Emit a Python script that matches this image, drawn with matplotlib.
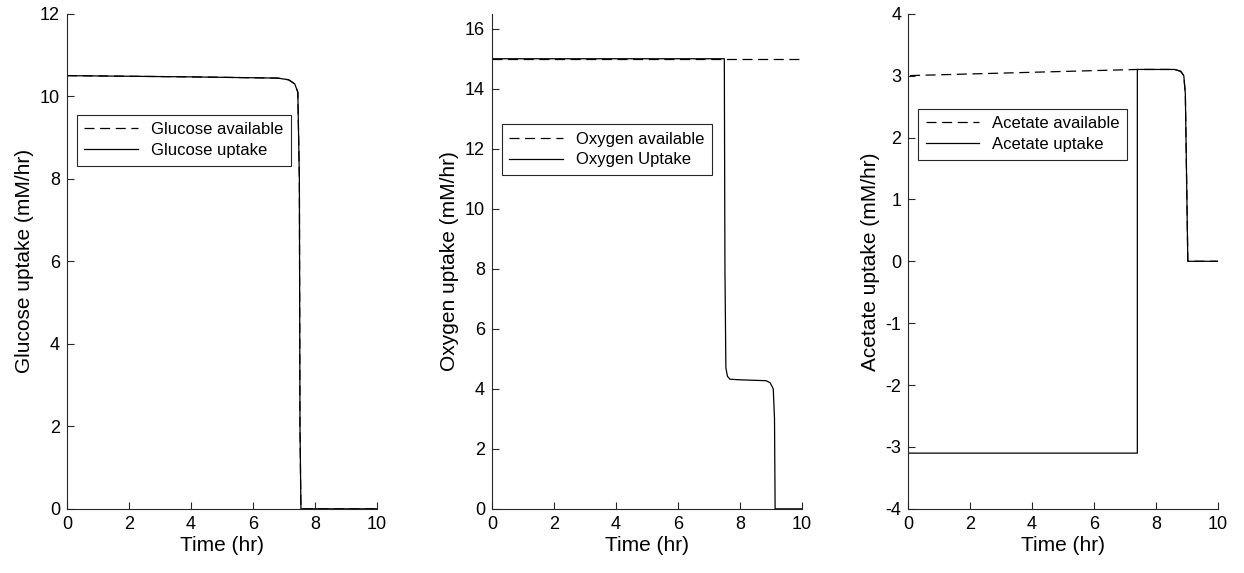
import matplotlib
matplotlib.use("Agg")
import matplotlib.pyplot as plt

plt.rcParams['font.family'] = ['Liberation Sans', 'DejaVu Sans']
plt.rcParams['axes.unicode_minus'] = False

# glucose (mM/hr)
glc_t = [0, 4.0, 6.8, 7.15, 7.35, 7.45, 7.5, 7.52, 7.55, 10]
glc_avail = [10.5, 10.47, 10.44, 10.4, 10.3, 10.1, 8.0, 2.0, 0.0, 0.0]
glc_up = [10.5, 10.47, 10.44, 10.4, 10.3, 10.1, 8.0, 2.0, 0.0, 0.0]

# oxygen (mM/hr)
o2_avail_t = [0, 10]
o2_avail = [15, 15]
o2_t = [0, 7.5, 7.52, 7.55, 7.6, 7.68, 8.0, 8.85, 8.98, 9.08, 9.12, 9.14, 10]
o2_up = [15, 15, 8.0, 4.7, 4.42, 4.32, 4.3, 4.27, 4.2, 4.0, 3.0, 0, 0]

# acetate (mM/hr)
ac_avail_t = [0, 0, 7.4, 8.6, 8.8, 8.9, 8.95, 9.0, 9.03, 10]
ac_avail = [0, 3.0, 3.1, 3.1, 3.07, 3.0, 2.7, 1.0, 0, 0]
ac_t = [0, 7.4, 7.4, 8.6, 8.8, 8.9, 8.95, 9.0, 9.03, 10]
ac_up = [-3.1, -3.1, 3.1, 3.1, 3.07, 3.0, 2.7, 1.0, 0, 0]

panels = [
    (glc_t, glc_avail, glc_t, glc_up, 'Glucose available', 'Glucose uptake',
     'Glucose uptake (mM/hr)', (0, 12), range(0, 13, 2), 0.796),
    (o2_avail_t, o2_avail, o2_t, o2_up, 'Oxygen available', 'Oxygen Uptake',
     'Oxygen uptake (mM/hr)', (0, 16.5), range(0, 17, 2), 0.777),
    (ac_avail_t, ac_avail, ac_t, ac_up, 'Acetate available', 'Acetate uptake',
     'Acetate uptake (mM/hr)', (-4, 4), range(-4, 5, 1), 0.808),
]

fig = plt.figure(figsize=(12.44, 5.73), dpi=100)
lefts = [0.0539, 0.3955, 0.730]
spine_col = '#262626'

for left, (ta, va, tu, vu, la, lu, ylab, ylim, yt, legtop) in zip(lefts, panels):
    ax = fig.add_axes([left, 0.112, 0.249, 0.864])
    ax.plot(ta, va, color='k', lw=0.9, ls=(0, (8, 4.5)), label=la)
    ax.plot(tu, vu, color='k', lw=0.9, label=lu)
    ax.set_xlim(0, 10)
    ax.set_ylim(*ylim)
    ax.set_xticks(range(0, 11, 2))
    ax.set_yticks(list(yt))
    ax.spines['top'].set_visible(False)
    ax.spines['right'].set_visible(False)
    for s in ('left', 'bottom'):
        ax.spines[s].set_color(spine_col)
        ax.spines[s].set_linewidth(0.8)
    ax.tick_params(direction='in', length=5, width=0.8, colors=spine_col,
                   labelsize=13, labelcolor='k', pad=5)
    ax.set_xlabel('Time (hr)', fontsize=15, labelpad=2)
    ax.set_ylabel(ylab, fontsize=15, labelpad=4)
    leg = ax.legend(loc='upper left', bbox_to_anchor=(0.032, legtop),
                    fontsize=12, fancybox=False, framealpha=1,
                    edgecolor=spine_col, handlelength=3.2,
                    borderaxespad=0, borderpad=0.45, labelspacing=0.35)
    leg.get_frame().set_linewidth(0.8)

fig.savefig('out.png', dpi=100)
